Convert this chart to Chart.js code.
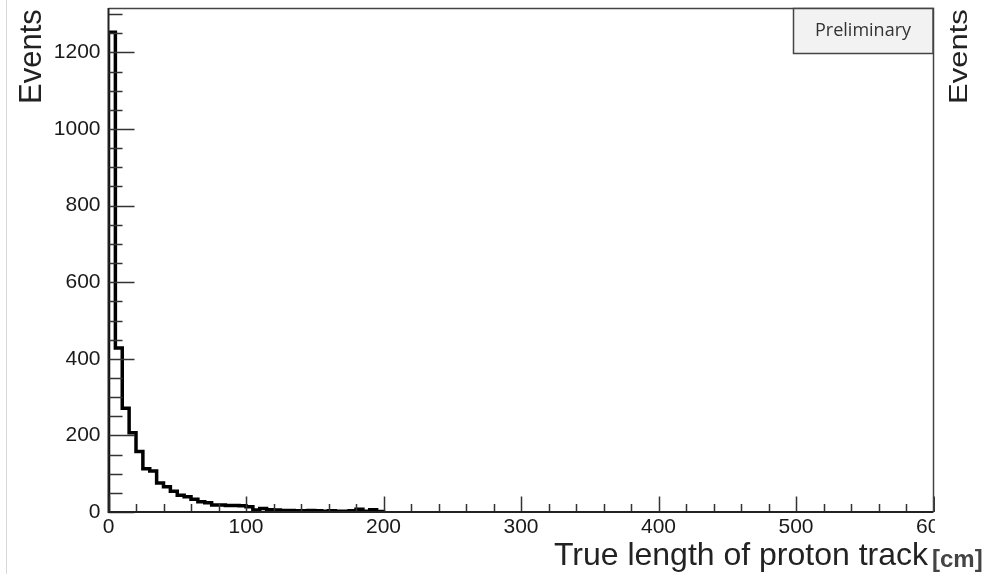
<!DOCTYPE html>
<html>
<head>
<meta charset="utf-8">
<script src="https://cdn.jsdelivr.net/npm/chart.js@4/dist/chart.umd.min.js"></script>
<style>
  html, body { margin: 0; padding: 0; background: #fff; }
</style>
</head>
<body>
<canvas id="graph" width="994" height="574"></canvas>
<script>
// histogram: 5 cm bins from 0 to 200 cm (empty after that)
const binWidth = 5;
const counts = [
    1253, 428, 271, 207, 158, 113, 107, 76, 66, 54,
    44, 40, 33, 27, 24, 18, 18, 17, 17, 16,
    14, 5, 9, 6, 5, 4, 4, 3, 3, 4,
    3, 2, 3, 2, 2, 3, 7, 2, 6, 1
];
const xTickLabels = [0, 100, 200, 300, 400, 500, 600];
const yTickLabels = [0, 200, 400, 600, 800, 1000, 1200];
const xMinorStep = 20;
const yMinorStep = 50;
const xTitle = 'True length of proton track';
const xUnit = '[cm]';
const yTitle = 'Events';
const stampText = 'Preliminary';

// step points for the outline
let points = [{x: 0, y: 0}];
for (let i = 0; i < counts.length; i++) {
    points.push({x: i * binWidth, y: counts[i]});
}
points.push({x: counts.length * binWidth, y: 0});

const rootFrame = {
    id: 'rootFrame',
    afterDraw(chart) {
        const ctx = chart.ctx;
        const a = chart.chartArea;
        const xs = chart.scales.x;
        const ys = chart.scales.y;
        ctx.save();

        // faint page edge at left
        ctx.strokeStyle = '#d8d8d8';
        ctx.lineWidth = 1;
        ctx.beginPath();
        ctx.moveTo(6.5, 0);
        ctx.lineTo(6.5, 574);
        ctx.stroke();

        // ticks pointing inside the frame
        ctx.strokeStyle = '#333';
        ctx.lineWidth = 1.5;
        ctx.beginPath();
        for (let v = xs.min; v <= xs.max; v += xMinorStep) {
            const px = Math.round(xs.getPixelForValue(v)) + 0.5;
            const len = (v % 100 === 0) ? 15.5 : 8;
            ctx.moveTo(px, a.bottom);
            ctx.lineTo(px, a.bottom - len);
        }
        for (let v = 0; v <= ys.max; v += yMinorStep) {
            const py = Math.round(ys.getPixelForValue(v)) + 0.5;
            const len = (v % 200 === 0) ? 26 : 14;
            ctx.moveTo(a.left, py);
            ctx.lineTo(a.left + len, py);
        }
        ctx.stroke();

        // frame
        ctx.strokeStyle = '#444';
        ctx.lineWidth = 1.5;
        ctx.beginPath();
        ctx.moveTo(a.left, a.top + 0.5);
        ctx.lineTo(a.right, a.top + 0.5);
        ctx.lineTo(a.right, a.bottom);
        ctx.stroke();
        ctx.strokeStyle = '#222';
        ctx.lineWidth = 2;
        ctx.beginPath();
        ctx.moveTo(a.left, a.top);
        ctx.lineTo(a.left, a.bottom);
        ctx.lineTo(a.right, a.bottom);
        ctx.stroke();

        // stamp box
        ctx.fillStyle = '#f2f2f2';
        ctx.fillRect(793.5, 8.5, 139.5, 45);
        ctx.strokeStyle = '#444';
        ctx.lineWidth = 1.5;
        ctx.strokeRect(793.5, 8.5, 139.5, 45);
        ctx.fillStyle = '#333';
        ctx.font = '18px "Open Sans"';
        ctx.textAlign = 'center';
        ctx.textBaseline = 'middle';
        ctx.fillText(stampText, 863, 31);

        // right side is cut off in the original (600 label clipped)
        ctx.fillStyle = '#fff';
        ctx.fillRect(935, 0, 59, 546);

        ctx.textBaseline = 'alphabetic';
        ctx.fillStyle = '#222';

        // x title
        ctx.font = '32px "Liberation Sans"';
        ctx.textAlign = 'right';
        ctx.fillText(xTitle, 928, 565);
        ctx.font = 'bold 24px "Liberation Sans"';
        ctx.textAlign = 'left';
        ctx.fillStyle = '#444';
        ctx.fillText(xUnit, 932, 567);

        // y title left
        ctx.fillStyle = '#222';
        ctx.font = '31px "Liberation Sans"';
        ctx.save();
        ctx.translate(41, 104);
        ctx.rotate(-Math.PI / 2);
        ctx.fillText(yTitle, 0, 0);
        ctx.restore();

        // y title right (squeezed copy)
        ctx.save();
        ctx.translate(967, 104);
        ctx.rotate(-Math.PI / 2);
        ctx.scale(1, 0.82);
        ctx.fillText(yTitle, 0, 0);
        ctx.restore();

        ctx.restore();
    }
};

const tickFont = {family: 'Liberation Sans', size: 21};

let ctx = document.getElementById('graph').getContext('2d');

const data = {
    datasets: [
        {
            label: yTitle,
            data: points,
            stepped: 'before',
            borderColor: '#000',
            borderWidth: 3.5,
            borderJoinStyle: 'miter',
            pointRadius: 0,
            fill: false
        }
    ]
};

const config = {
    type: 'line',
    data: data,
    options: {
        responsive: false,
        animation: false,
        devicePixelRatio: 1,
        layout: {
            padding: {top: 8, right: 60.5, left: 0, bottom: 0}
        },
        plugins: {
            legend: {display: false},
            tooltip: {enabled: false}
        },
        scales: {
            x: {
                type: 'linear',
                min: 0,
                max: 600,
                grid: {display: false, drawTicks: false},
                border: {display: false},
                ticks: {
                    font: tickFont, color: '#1a1a1a', padding: 3, maxRotation: 0, autoSkip: false,
                    callback: v => String(v)
                },
                afterBuildTicks: function (s) {
                    s.ticks = xTickLabels.map(v => ({value: v}));
                },
                afterFit: function (s) {
                    s.height = 62;
                    s.paddingLeft = 0; s.paddingRight = 0;
                    s.paddingTop = 0; s.paddingBottom = 0;
                }
            },
            y: {
                type: 'linear',
                min: 0,
                max: 1316,
                grid: {display: false, drawTicks: false},
                border: {display: false},
                ticks: {
                    font: tickFont, color: '#1a1a1a', padding: 8, autoSkip: false,
                    callback: v => String(v)
                },
                afterBuildTicks: function (s) {
                    s.ticks = yTickLabels.map(v => ({value: v}));
                },
                afterFit: function (s) {
                    s.width = 108.5;
                    s.paddingLeft = 0; s.paddingRight = 0;
                    s.paddingTop = 0; s.paddingBottom = 0;
                }
            }
        }
    },
    plugins: [rootFrame]
};

let graph1 = new Chart(ctx, config);
</script>
</body>
</html>
